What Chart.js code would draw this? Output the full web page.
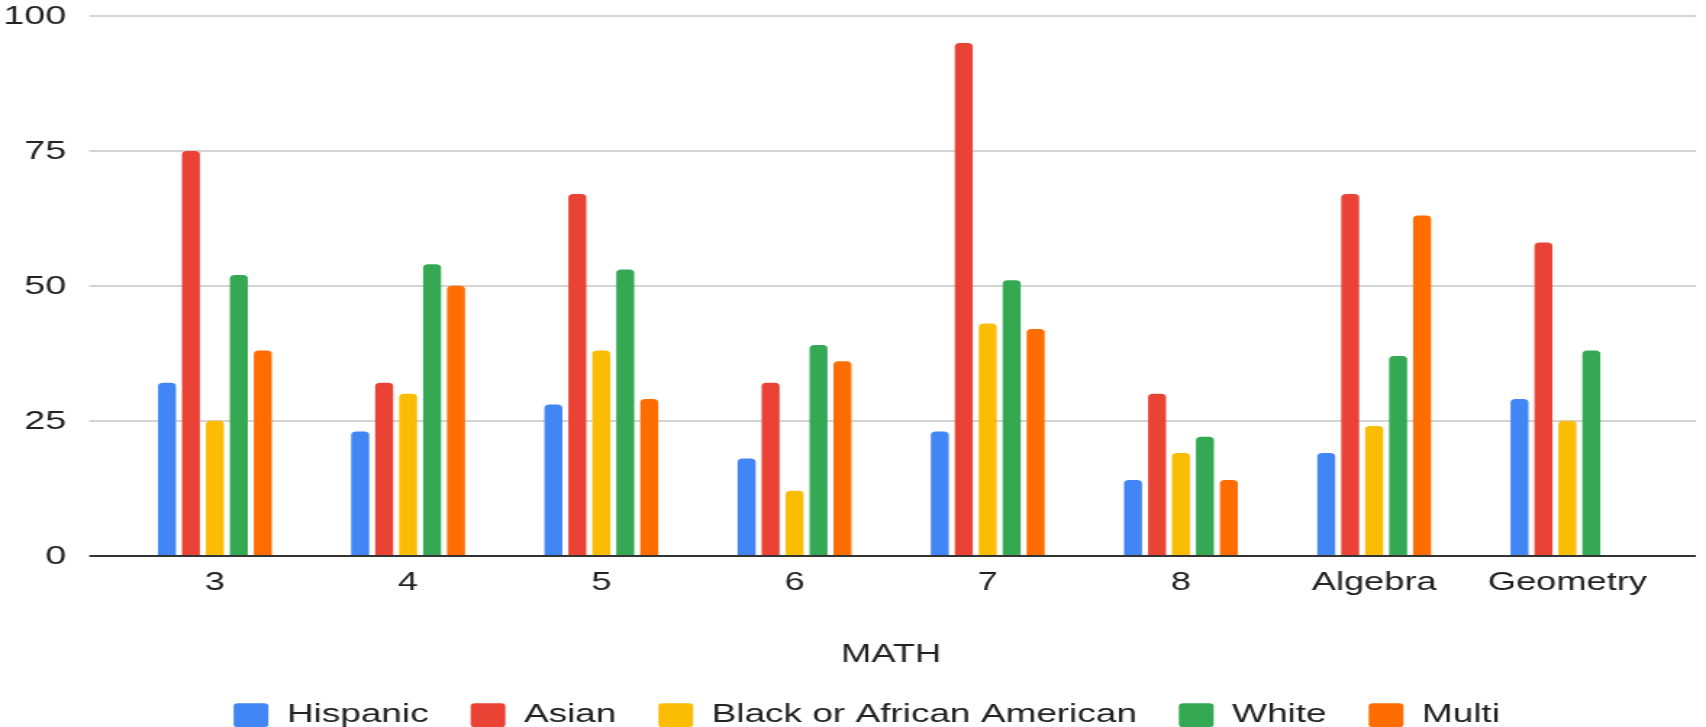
<!DOCTYPE html>
<html lang="en">
<head>
<meta charset="UTF-8">
<title>MATH</title>
<script src="https://cdn.jsdelivr.net/npm/chart.js"></script>
<style>
    body { margin: 0; background: #fff; }
</style>
</head>
<body>
<!-- drawn 1177 wide and stretched to 1706, like the source picture -->
<canvas id="mychart" width="1177" height="727" style="display:block;width:1706px;height:727px"></canvas>
<script>
    var labels = ['3', '4', '5', '6', '7', '8', 'Algebra', 'Geometry'];
    var hispanic = [32, 23, 28, 18, 23, 14, 19, 29];
    var asian = [75, 32, 67, 32, 95, 30, 67, 58];
    var black = [25, 30, 38, 12, 43, 19, 24, 25];
    var white = [52, 54, 53, 39, 51, 22, 37, 38];
    var multi = [38, 50, 29, 36, 42, 14, 63, null];
    var yTicks = [0, 25, 50, 75, 100];

    var font = "'Liberation Sans', Arial, sans-serif";

    // y grid + labels drawn by hand so the lines can run past the bar area
    var gridPlugin = {
        id: 'gridlines',
        beforeDatasetsDraw: function (chart) {
            var ctx = chart.ctx, area = chart.chartArea, y = chart.scales.y;
            ctx.save();
            ctx.lineWidth = 2;
            ctx.strokeStyle = '#d4d4d4';
            ctx.fillStyle = '#222';
            ctx.font = '26px ' + font;
            ctx.textAlign = 'right';
            ctx.textBaseline = 'middle';
            y.ticks.forEach(function (t) {
                var py = Math.round(y.getPixelForValue(t.value));
                ctx.fillText(String(t.value), area.left - 36, py + 1);
                if (t.value === 0) return;
                ctx.beginPath();
                ctx.moveTo(area.left - 20, py);
                ctx.lineTo(area.right + 22, py);
                ctx.stroke();
            });
            ctx.restore();
        },
        afterDatasetsDraw: function (chart) {
            var ctx = chart.ctx, area = chart.chartArea, y = chart.scales.y;
            var py = Math.round(y.getPixelForValue(0));
            ctx.save();
            ctx.lineWidth = 2;
            ctx.strokeStyle = '#333';
            ctx.beginPath();
            ctx.moveTo(area.left - 20, py);
            ctx.lineTo(area.right + 22, py);
            ctx.stroke();
            ctx.restore();
        }
    };

    function bars(label, data, color) {
        return {
            label: label,
            data: data,
            backgroundColor: color,
            borderWidth: 0,
            borderRadius: 3.5,
            categoryPercentage: 0.62,
            barPercentage: 0.75
        };
    }

    var mychart = new Chart(document.getElementById('mychart'), {
        type: 'bar',
        data: {
            labels: labels,
            datasets: [
                bars('Hispanic', hispanic, '#4285F4'),
                bars('Asian', asian, '#EA4335'),
                bars('Black or African American', black, '#FBBC04'),
                bars('White', white, '#34A853'),
                bars('Multi', multi, '#FF6D01')
            ]
        },
        plugins: [gridPlugin],
        options: {
            responsive: false,
            animation: false,
            layout: { padding: { left: 48, right: 29, top: 16, bottom: -11 } },
            plugins: {
                tooltip: { enabled: false },
                legend: {
                    position: 'bottom',
                    labels: {
                        color: '#222',
                        font: { family: font, size: 25.5 },
                        boxWidth: 24,
                        boxHeight: 24,
                        padding: 29,
                        useBorderRadius: true,
                        borderRadius: 3
                    }
                }
            },
            scales: {
                x: {
                    grid: { display: false, drawTicks: false },
                    border: { display: false },
                    ticks: { color: '#222', font: { family: font, size: 25 }, padding: 13 },
                    title: {
                        display: true,
                        text: 'MATH',
                        color: '#222',
                        font: { family: font, size: 25 },
                        padding: { top: 0, bottom: 3 }
                    },
                    afterFit: function (s) { s.height = 118; }
                },
                y: {
                    min: 0,
                    max: 100,
                    grid: { display: false, drawTicks: false },
                    border: { display: false },
                    afterBuildTicks: function (s) {
                        s.ticks = yTicks.map(function (v) { return { value: v }; });
                    },
                    ticks: { display: false },
                    afterFit: function (s) { s.width = 33.6; }
                }
            }
        }
    });
</script>
</body>
</html>
